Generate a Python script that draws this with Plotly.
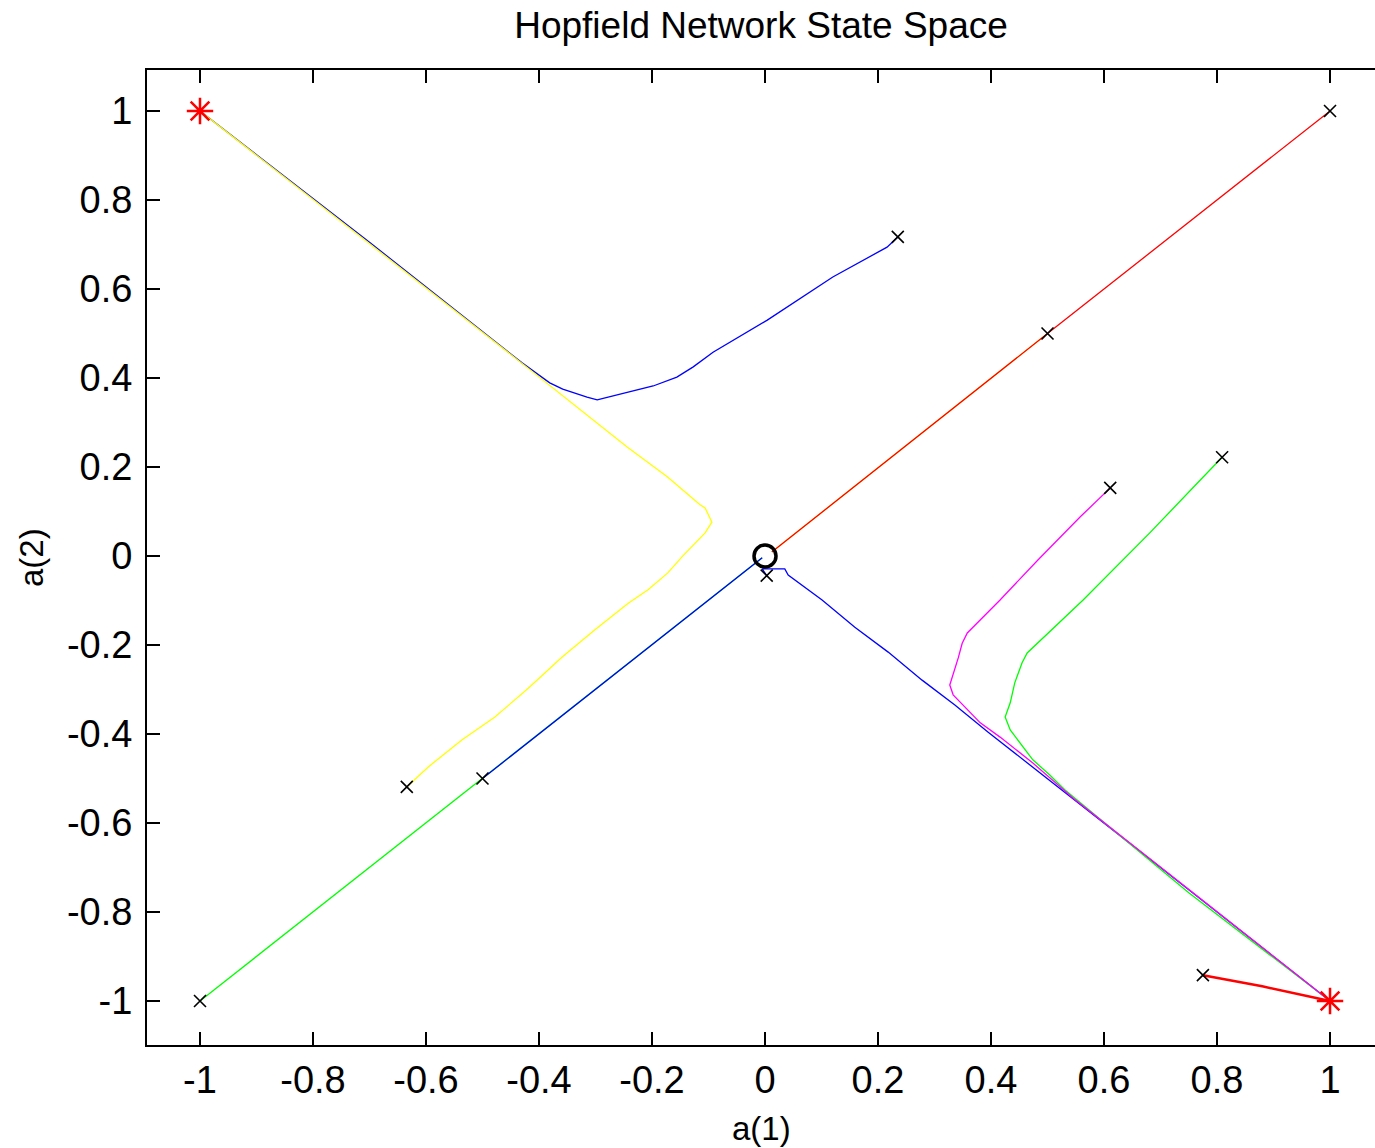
import plotly.graph_objects as go

# ---- data ----
tick_vals = [-1, -0.8, -0.6, -0.4, -0.2, 0, 0.2, 0.4, 0.6, 0.8, 1]
tick_text = ["-1", "-0.8", "-0.6", "-0.4", "-0.2", "0", "0.2", "0.4", "0.6", "0.8", "1"]

# trajectories (drawn in this order)
green_diag_x = [-1.0, -0.5, -0.005]
green_diag_y = [-1.0, -0.5, -0.004]

blue_diag_x = [-0.5, -0.005]
blue_diag_y = [-0.5, -0.004]

yellow_diag_x = [0.5, 0.012]
yellow_diag_y = [0.5, 0.009]

red_diag_x = [1.0, 0.5, 0.012]
red_diag_y = [1.0, 0.5, 0.009]

blue_up_x = [0.235, 0.216, 0.120, 0.004, -0.092, -0.127, -0.156, -0.181, -0.198, -0.221,
             -0.257, -0.297, -0.315, -0.333, -0.358, -0.381, -0.395, -0.411, -0.430, -0.7, -1.0]
blue_up_y = [0.717, 0.694, 0.627, 0.530, 0.458, 0.425, 0.402, 0.389, 0.382, 0.375,
             0.364, 0.351, 0.357, 0.364, 0.375, 0.389, 0.402, 0.418, 0.434, 0.705, 1.0]

yellow_x = [-0.634, -0.596, -0.536, -0.478, -0.419, -0.359, -0.301, -0.242, -0.207, -0.172,
            -0.147, -0.124, -0.106, -0.094, -0.097, -0.106, -0.115, -0.173, -0.244, -0.322,
            -0.469, -1.0]
yellow_y = [-0.519, -0.474, -0.413, -0.362, -0.297, -0.227, -0.166, -0.106, -0.076, -0.038,
            -0.002, 0.029, 0.052, 0.076, 0.085, 0.108, 0.115, 0.178, 0.245, 0.324,
            0.472, 1.0]

blue_low_x = [0.003, -0.005, 0.035, 0.041, 0.101, 0.159, 0.218, 0.278, 0.336, 0.395, 0.7, 1.0]
blue_low_y = [-0.044, -0.029, -0.029, -0.043, -0.099, -0.160, -0.216, -0.279, -0.335, -0.396, -0.70, -1.0]

green_right_x = [0.809, 0.681, 0.563, 0.464, 0.455, 0.442, 0.434, 0.425, 0.434, 0.451,
                 0.474, 0.504, 0.531, 0.75, 1.0]
green_right_y = [0.222, 0.052, -0.099, -0.218, -0.240, -0.285, -0.330, -0.362, -0.391, -0.420,
                 -0.458, -0.492, -0.526, -0.757, -1.0]

magenta_x = [0.611, 0.558, 0.483, 0.416, 0.358, 0.349, 0.342, 0.333, 0.327, 0.333,
             0.358, 0.381, 0.416, 0.474, 0.545, 0.8, 1.0]
magenta_y = [0.153, 0.088, -0.009, -0.099, -0.173, -0.196, -0.229, -0.263, -0.290, -0.312,
             -0.346, -0.375, -0.407, -0.465, -0.544, -0.8, -1.0]

red_low_x = [0.775, 0.88, 1.0]
red_low_y = [-0.942, -0.967, -1.0]

equilibria_x = [-1.0, 1.0]
equilibria_y = [1.0, -1.0]
saddle_x = [0.0]
saddle_y = [0.0]

trajectories = [
    (green_diag_x, green_diag_y, "#00FF00", 1.3),
    (blue_diag_x, blue_diag_y, "#0000FF", 1.3),
    (yellow_diag_x, yellow_diag_y, "#FFFF00", 1.3),
    (red_diag_x, red_diag_y, "#FF0000", 1.3),
    (blue_up_x, blue_up_y, "#0000FF", 1.3),
    (yellow_x, yellow_y, "#FFFF00", 1.3),
    (blue_low_x, blue_low_y, "#0000FF", 1.3),
    (green_right_x, green_right_y, "#00FF00", 1.3),
    (magenta_x, magenta_y, "#FF00FF", 1.3),
    (red_low_x, red_low_y, "#FF0000", 2.5),
]

fig = go.Figure()
for tx, ty, col, w in trajectories:
    fig.add_trace(go.Scatter(x=tx, y=ty, mode="lines",
                             line=dict(color=col, width=w), showlegend=False,
                             hoverinfo="skip"))

start_x = [t[0][0] for t in trajectories]
start_y = [t[1][0] for t in trajectories]
fig.add_trace(go.Scatter(x=start_x, y=start_y, mode="markers",
                         marker=dict(symbol="x-thin-open", size=12, color="black",
                                     line=dict(color="black", width=1.6)),
                         showlegend=False))
fig.add_trace(go.Scatter(x=equilibria_x, y=equilibria_y, mode="markers",
                         marker=dict(symbol="asterisk-open", size=22, color="#FF0000",
                                     line=dict(color="#FF0000", width=2.5)),
                         showlegend=False))
fig.add_trace(go.Scatter(x=saddle_x, y=saddle_y, mode="markers",
                         marker=dict(symbol="circle-open", size=22, color="black",
                                     line=dict(color="black", width=3.5)),
                         showlegend=False))

font_family = "Liberation Sans, Arial, sans-serif"

fig.update_layout(
    width=1375, height=1148,
    margin=dict(l=147, r=0, t=70, b=103),
    paper_bgcolor="white", plot_bgcolor="white",
    font=dict(family=font_family, color="black"),
    title=dict(text="Hopfield Network State Space",
               font=dict(family=font_family, size=37, color="black"),
               x=761 / 1375, xref="container", xanchor="center",
               y=1 - 25 / 1148, yref="container", yanchor="middle"),
    xaxis=dict(range=[-1.0938, 1.0796], tickvals=tick_vals, ticktext=tick_text,
               ticks="inside", ticklen=13, tickwidth=2, tickcolor="black",
               showline=True, linewidth=2, linecolor="black", mirror="ticks",
               showgrid=False, zeroline=False,
               tickfont=dict(family=font_family, size=38, color="black"),
               ticklabelstandoff=0),
    yaxis=dict(range=[-1.0989, 1.0921], tickvals=tick_vals, ticktext=tick_text,
               ticks="inside", ticklen=13, tickwidth=2, tickcolor="black",
               showline=True, linewidth=2, linecolor="black", mirror=False,
               showgrid=False, zeroline=False,
               tickfont=dict(family=font_family, size=38, color="black"),
               ticklabelstandoff=5),
    annotations=[
        dict(text="a(1)", xref="paper", yref="paper", x=0.5008, y=-(1128 - 1045) / 975,
             xanchor="center", yanchor="middle", showarrow=False,
             font=dict(family=font_family, size=33, color="black")),
        dict(text="a(2)", xref="paper", yref="paper", x=(32 - 147) / 1228, y=0.4995,
             xanchor="center", yanchor="middle", showarrow=False, textangle=-90,
             font=dict(family=font_family, size=33, color="black")),
    ],
)

fig.write_html("out.html")
